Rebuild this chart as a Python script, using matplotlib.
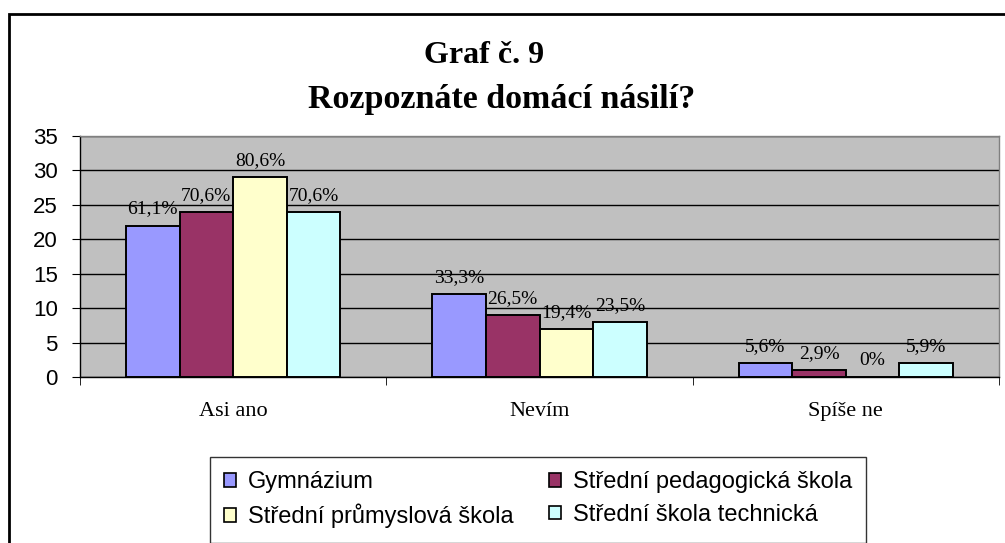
import matplotlib
matplotlib.use("Agg")
import matplotlib.pyplot as plt
from matplotlib.patches import Rectangle
import numpy as np

categories = ["Asi ano", "Nevím", "Spíše ne"]
series_names = ["Gymnázium", "Střední pedagogická škola",
                "Střední průmyslová škola", "Střední škola technická"]
gymnazium = [22, 12, 2]
pedagogicka = [24, 9, 1]
prumyslova = [29, 7, 0]
technicka = [24, 8, 2]
labels_gym = ["61,1%", "33,3%", "5,6%"]
labels_ped = ["70,6%", "26,5%", "2,9%"]
labels_pru = ["80,6%", "19,4%", "0%"]
labels_tech = ["70,6%", "23,5%", "5,9%"]
yticks = [0, 5, 10, 15, 20, 25, 30, 35]

series = [gymnazium, pedagogicka, prumyslova, technicka]
series_labels = [labels_gym, labels_ped, labels_pru, labels_tech]
colors = ["#9999FF", "#993366", "#FFFFCC", "#CCFFFF"]

W, H = 1005, 543
fig = plt.figure(figsize=(W / 100, H / 100), dpi=100)
fig.patch.set_facecolor("white")

# outer chart frame
fig.patches.append(Rectangle((8.5 / W, -0.1), 1.2, (1 - 14.5 / H) + 0.1,
                             transform=fig.transFigure, fill=False,
                             edgecolor="black", linewidth=2.0))

ax = fig.add_axes([80 / W, 1 - 377 / H, (999 - 80) / W, (377 - 136) / H])
ax.set_facecolor("#C0C0C0")

x = np.arange(len(categories))
bw = 0.175
offsets = (np.arange(4) - 1.5) * bw
for s, vals, labs, c, off in zip(series_names, series, series_labels, colors, offsets):
    bars = ax.bar(x + off, vals, width=bw, color=c, edgecolor="black",
                  linewidth=1.4, label=s, zorder=3)
    for b, lab in zip(bars, labs):
        ax.annotate(lab, (b.get_x() + b.get_width() / 2, b.get_height()),
                    xytext=(0, 8), textcoords="offset pixels",
                    ha="center", va="bottom", fontsize=14,
                    family="Liberation Serif", zorder=4)

ax.set_ylim(0, 35)
ax.set_xlim(-0.5, len(categories) - 0.5)
ax.set_yticks(yticks)
ax.set_yticklabels([str(v) for v in yticks], family="Liberation Sans", fontsize=16)
ax.yaxis.grid(True, color="black", linewidth=1.0, zorder=1)
ax.set_axisbelow(True)

ax.set_xticks(x)
ax.set_xticklabels(categories, family="Liberation Serif", fontsize=16)
ax.tick_params(axis="x", which="major", length=0, pad=18)
ax.set_xticks(np.arange(len(categories) + 1) - 0.5, minor=True)
ax.tick_params(axis="x", which="minor", length=6, direction="out", color="black")
ax.tick_params(axis="y", length=6, direction="out", color="black", pad=10)

for side in ["top", "right"]:
    ax.spines[side].set_color("#808080")
    ax.spines[side].set_linewidth(1.0)
for side in ["left", "bottom"]:
    ax.spines[side].set_color("black")
    ax.spines[side].set_linewidth(1.0)

fig.text(484 / W, 1 - 63 / H, "Graf č. 9", ha="center", va="baseline",
         family="Liberation Serif", fontweight="bold", fontsize=23)
fig.text(502 / W, 1 - 108 / H, "Rozpoznáte domácí násilí?", ha="center", va="baseline",
         family="Liberation Serif", fontweight="bold", fontsize=24.5)

handles, lbls = ax.get_legend_handles_labels()
order = [0, 2, 1, 3]
leg = fig.legend([handles[i] for i in order], [lbls[i] for i in order],
                 ncol=2, loc="upper center",
                 bbox_to_anchor=(538 / W, 1 - 457 / H),
                 prop={"family": "Liberation Sans", "size": 17},
                 frameon=True, fancybox=False, shadow=False,
                 edgecolor="black", handlelength=0.52, handleheight=0.5,
                 handletextpad=0.5, columnspacing=1.5, labelspacing=0.45,
                 borderpad=0.6, borderaxespad=0)
leg.get_frame().set_linewidth(1.0)
for p in leg.get_patches():
    p.set_linewidth(1.2)

fig.savefig("out.png", dpi=100)
